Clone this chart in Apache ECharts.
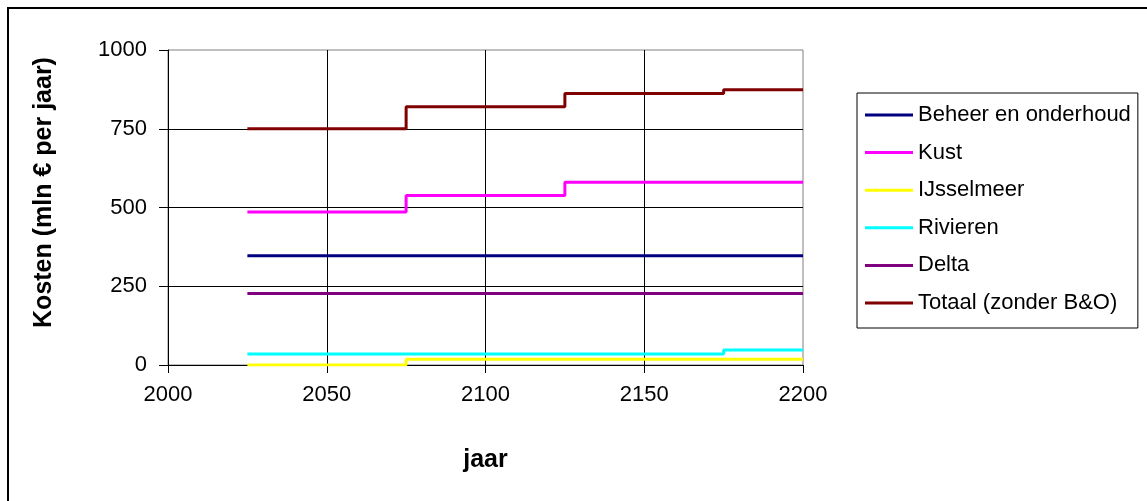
<!DOCTYPE html>
<html>
<head>
<meta charset="utf-8">
<script src="https://cdn.jsdelivr.net/npm/echarts@6/dist/echarts.min.js"></script>
<style>
  html, body { margin: 0; padding: 0; background: #fff; }
  #chart { width: 1147px; height: 501px; }
</style>
</head>
<body>
<div id="chart"></div>
<script>
// Breakpoints of the step lines (year where each level starts, plus the end year)
const years = [2025, 2075, 2125, 2175, 2200];

// Yearly costs per component, in mln € per year (last value repeats to close the final step)
const beheerEnOnderhoud = [347, 347, 347, 347, 347];
const kust = [486, 538, 580, 580, 580];
const ijsselmeer = [0, 18, 18, 18, 18];
const rivieren = [35, 35, 35, 48, 48];
const delta = [227, 227, 227, 227, 227];
const totaal = [750, 820, 862, 874, 874];

const seriesNames = ['Beheer en onderhoud', 'Kust', 'IJsselmeer', 'Rivieren', 'Delta', 'Totaal (zonder B&O)'];
const seriesValues = [beheerEnOnderhoud, kust, ijsselmeer, rivieren, delta, totaal];
const seriesColors = ['#000080', '#FF00FF', '#FFFF00', '#00FFFF', '#800080', '#800000'];

const xTicks = [2000, 2050, 2100, 2150, 2200];
const yTicks = [0, 250, 500, 750, 1000];

const font = 'Liberation Sans, Arial, sans-serif';

const chart = echarts.init(document.getElementById('chart'), null, { renderer: 'canvas' });

const series = seriesNames.map((name, i) => ({
  name: name,
  type: 'line',
  step: 'end',
  showSymbol: false,
  symbol: 'none',
  animation: false,
  lineStyle: { color: seriesColors[i], width: 3 },
  itemStyle: { color: seriesColors[i] },
  data: years.map((y, k) => [y, seriesValues[i][k]])
}));

chart.setOption({
  backgroundColor: '#fff',
  animation: false,
  textStyle: { fontFamily: font, color: '#000' },
  graphic: [{
    type: 'rect',
    shape: { x: 8, y: 8, width: 1160, height: 520 },
    style: { fill: null, stroke: '#000', lineWidth: 2 },
    silent: true,
    z: -1
  }],
  grid: {
    left: 168, top: 50, width: 635, height: 315,
    show: true, borderColor: '#808080', borderWidth: 1, backgroundColor: '#fff'
  },
  legend: {
    orient: 'vertical',
    left: 857, top: 93,
    padding: [11, 7, 14, 8],
    itemGap: 15.6,
    itemWidth: 48,
    itemHeight: 3,
    icon: 'rect',
    borderColor: '#000',
    borderWidth: 1,
    backgroundColor: '#fff',
    textStyle: { fontFamily: font, fontSize: 22, color: '#000' },
    data: seriesNames
  },
  xAxis: {
    type: 'value',
    min: xTicks[0], max: xTicks[xTicks.length - 1], interval: 50,
    name: 'jaar',
    nameLocation: 'middle',
    nameGap: 83,
    nameTextStyle: { fontFamily: font, fontSize: 25, fontWeight: 'bold', color: '#000' },
    axisLine: { show: true, onZero: false, lineStyle: { color: '#000', width: 1 } },
    axisTick: { show: true, length: 8, lineStyle: { color: '#000' } },
    axisLabel: { fontFamily: font, fontSize: 22, color: '#000', margin: 19, formatter: v => String(v) },
    splitLine: { show: true, showMinLine: false, showMaxLine: false, lineStyle: { color: '#000', width: 1 } }
  },
  yAxis: {
    type: 'value',
    min: yTicks[0], max: yTicks[yTicks.length - 1], interval: 250,
    name: 'Kosten (mln € per jaar)',
    nameLocation: 'middle',
    nameGap: 111,
    nameRotate: 90,
    nameTextStyle: { fontFamily: font, fontSize: 25, fontWeight: 'bold', color: '#000', padding: [0, 0, 0, 30] },
    axisLine: { show: true, lineStyle: { color: '#000', width: 1 } },
    axisTick: { show: true, length: 9, lineStyle: { color: '#000' } },
    axisLabel: { fontFamily: font, fontSize: 22, color: '#000', margin: 21, formatter: v => String(v) },
    splitLine: { show: true, showMinLine: false, showMaxLine: false, lineStyle: { color: '#000', width: 1 } }
  },
  series: series
});
</script>
</body>
</html>
